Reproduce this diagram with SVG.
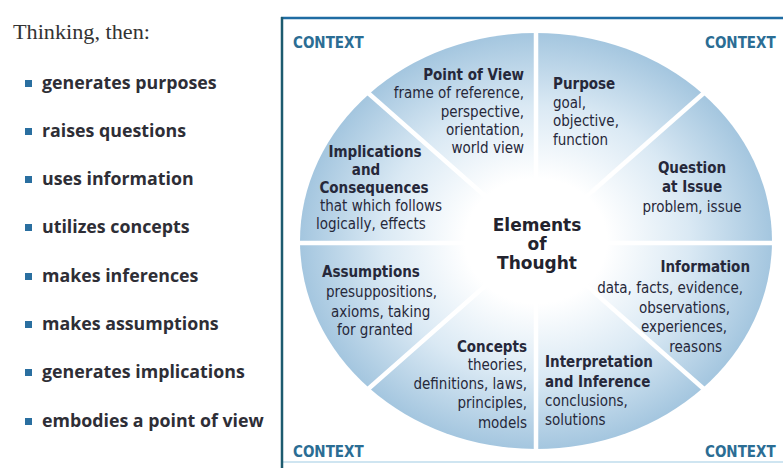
<svg xmlns="http://www.w3.org/2000/svg" width="783" height="468" viewBox="0 0 783 468">
<defs>
<radialGradient id="wheel" cx="0.5" cy="0.5" r="0.5">
<stop offset="0" stop-color="#ffffff"/>
<stop offset="0.3" stop-color="#ffffff"/>
<stop offset="0.65" stop-color="#dae9f4"/>
<stop offset="1" stop-color="#a4c6df"/>
</radialGradient>
</defs>
<style>
.ctx{font-family:"DejaVu Sans Condensed","Liberation Sans",sans-serif;font-weight:bold;font-size:15px;fill:#2b6d94}
.lbl{font-family:"DejaVu Sans Condensed","Liberation Sans",sans-serif;font-size:15px;fill:#26283a}
.b{font-weight:bold}
.list{font-family:"Open Sans","DejaVu Sans",sans-serif;font-weight:bold;font-size:17.8px;fill:#2e2e36}
.bul{fill:#2a6fa0}
.div{stroke:#ffffff;stroke-width:4.5}
.center{font-family:"DejaVu Sans",sans-serif;font-weight:bold;font-size:17px;fill:#23232e}
</style>
<rect width="783" height="468" fill="#ffffff"/>
<g id="list">
<text x="13" y="39" font-family="Liberation Serif,serif" font-size="20" fill="#333" textLength="137" lengthAdjust="spacingAndGlyphs">Thinking, then:</text>
<rect class="bul" x="25" y="80" width="7" height="7"/><text class="list" x="42" y="89">generates purposes</text>
<rect class="bul" x="25" y="128" width="7" height="7"/><text class="list" x="42" y="137">raises questions</text>
<rect class="bul" x="25" y="176" width="7" height="7"/><text class="list" x="42" y="185">uses information</text>
<rect class="bul" x="25" y="224" width="7" height="7"/><text class="list" x="42" y="233">utilizes concepts</text>
<rect class="bul" x="25" y="273" width="7" height="7"/><text class="list" x="42" y="282">makes inferences</text>
<rect class="bul" x="25" y="321" width="7" height="7"/><text class="list" x="42" y="330">makes assumptions</text>
<rect class="bul" x="25" y="369" width="7" height="7"/><text class="list" x="42" y="378">generates implications</text>
<rect class="bul" x="25" y="418" width="7" height="7"/><text class="list" x="42" y="427">embodies a point of view</text>
</g>
<g id="frame">
<line x1="282" y1="462" x2="783" y2="462" stroke="#cfe5f1" stroke-width="2"/>
<line x1="281" y1="18" x2="783" y2="18" stroke="#1f6ca3" stroke-width="2.5"/>
<line x1="282" y1="17" x2="282" y2="468" stroke="#1d5b6f" stroke-width="2.5"/>
<text class="ctx" x="293" y="48">CONTEXT</text>
<text class="ctx" x="705" y="48">CONTEXT</text>
<text class="ctx" x="293" y="457">CONTEXT</text>
<text class="ctx" x="705" y="457">CONTEXT</text>
</g>
<g id="wheel-bg">
<ellipse cx="536" cy="241" rx="236" ry="208" fill="url(#wheel)"/>
</g>
<g id="connectors">
<line class="div" x1="536" y1="241" x2="536" y2="30"/>
<line class="div" x1="536" y1="241" x2="536" y2="452"/>
<line class="div" x1="536" y1="243" x2="296" y2="243"/>
<line class="div" x1="536" y1="243" x2="776" y2="243"/>
<line class="div" x1="536" y1="241" x2="367" y2="92"/>
<line class="div" x1="536" y1="241" x2="705" y2="92"/>
<line class="div" x1="536" y1="241" x2="367" y2="390"/>
<line class="div" x1="536" y1="241" x2="705" y2="390"/>
</g>
<g id="center">
<text class="center" x="537" y="231" text-anchor="middle">Elements</text>
<text class="center" x="537" y="250" text-anchor="middle">of</text>
<text class="center" x="537" y="269" text-anchor="middle">Thought</text>
</g>
<g id="point-of-view" class="lbl" text-anchor="end">
<text class="b" x="524" y="80">Point of View</text>
<text x="524" y="98">frame of reference,</text>
<text x="524" y="116.5">perspective,</text>
<text x="524" y="135">orientation,</text>
<text x="524" y="153">world view</text>
</g>
<g id="purpose" class="lbl">
<text class="b" x="553" y="89">Purpose</text>
<text x="553" y="107.5">goal,</text>
<text x="553" y="126">objective,</text>
<text x="553" y="145">function</text>
</g>
<g id="question" class="lbl" text-anchor="middle">
<text class="b" x="692" y="173">Question</text>
<text class="b" x="692" y="192">at Issue</text>
<text x="692" y="212">problem, issue</text>
</g>
<g id="information" class="lbl" text-anchor="end">
<text class="b" x="750" y="272">Information</text>
<text x="743" y="293">data, facts, evidence,</text>
<text x="730" y="313">observations,</text>
<text x="727" y="332">experiences,</text>
<text x="722" y="352">reasons</text>
</g>
<g id="interpretation" class="lbl">
<text class="b" x="545" y="367">Interpretation</text>
<text class="b" x="545" y="387">and Inference</text>
<text x="545" y="406">conclusions,</text>
<text x="545" y="425">solutions</text>
</g>
<g id="concepts" class="lbl" text-anchor="end">
<text class="b" x="527" y="352">Concepts</text>
<text x="527" y="370">theories,</text>
<text x="527" y="389">definitions, laws,</text>
<text x="527" y="408">principles,</text>
<text x="527" y="428">models</text>
</g>
<g id="assumptions" class="lbl">
<text class="b" x="322" y="277">Assumptions</text>
<text x="326" y="297">presuppositions,</text>
<text x="331" y="317">axioms, taking</text>
<text x="337" y="335">for granted</text>
</g>
<g id="implications" class="lbl">
<text class="b" x="375" y="157" text-anchor="middle">Implications</text>
<text class="b" x="366" y="175" text-anchor="middle">and</text>
<text class="b" x="374" y="193" text-anchor="middle">Consequences</text>
<text x="320" y="211">that which follows</text>
<text x="316" y="229">logically, effects</text>
</g>
</svg>
